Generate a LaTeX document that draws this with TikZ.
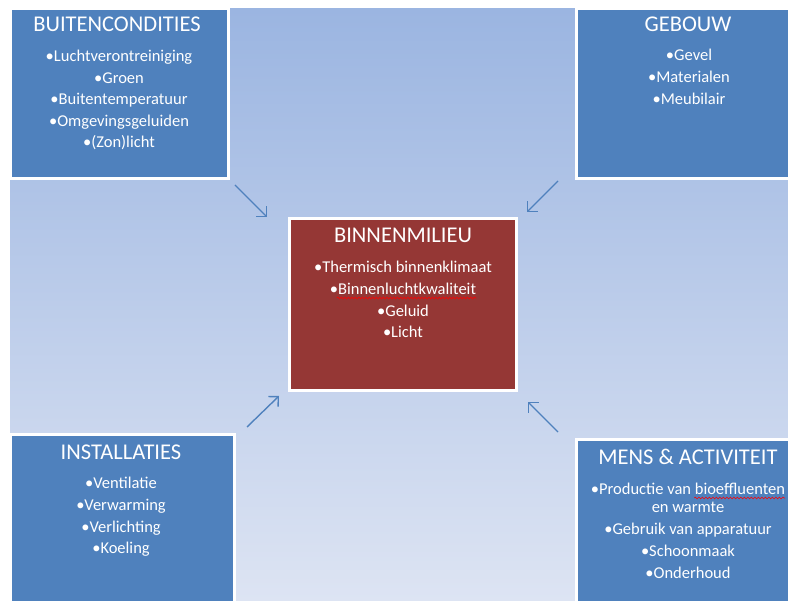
\documentclass[tikz,border=0pt]{standalone}
\usepackage{fontspec}
\setmainfont{Carlito}
\usetikzlibrary{positioning,arrows.meta,decorations.pathmorphing}

\definecolor{vakblauw}{HTML}{4F81BD}
\definecolor{vakrood}{HTML}{953735}
\definecolor{achtergrondboven}{HTML}{9BB5E1}
\definecolor{achtergrondmidden}{HTML}{C3D1EC}
\definecolor{achtergrondonder}{HTML}{DDE4F3}

\begin{document}
\begin{tikzpicture}
[x=1pt,y=-1pt,
vak/.style={rectangle,draw=white,line width=3pt,outer sep=0pt,inner sep=0pt,anchor=north west},
blauwvak/.style={vak,fill=vakblauw},
roodvak/.style={vak,fill=vakrood},
kop/.style={text=white,font=\fontsize{22.5}{27}\selectfont,anchor=base,inner sep=0pt},
punt/.style={text=white,font=\fontsize{16.5}{20}\selectfont,anchor=base,inner sep=0pt},
pijl/.style={draw=vakblauw,line width=1.4pt,-{Straight Barb[length=7pt,width=14pt]}},
kronkel/.style={draw=red,line width=0.6pt,decorate,decoration={snake,amplitude=0.9pt,segment length=3.5pt}}]

\useasboundingbox (0,0) rectangle (788,601);
\shade[top color=achtergrondboven,middle color=achtergrondmidden,bottom color=achtergrondonder] (10,9) rectangle (788,601);

% vakken
\node[blauwvak,minimum width=218pt,minimum height=170pt] (buiten) at (10,9) {};
\node[blauwvak,minimum width=214pt,minimum height=170pt] (gebouw) at (576.5,9) {};
\node[roodvak,minimum width=227pt,minimum height=172pt] (binnen) at (289.5,218.5) {};
\node[blauwvak,minimum width=224.5pt,minimum height=171pt] (install) at (10,434.5) {};
\node[blauwvak,minimum width=214pt,minimum height=165pt] (mens) at (576.5,440) {};

% koppen
\node[kop] (buiten-kop) at (117,32) {BUITENCONDITIES};
\node[kop] (gebouw-kop) at (688,32) {GEBOUW};
\node[kop] (binnen-kop) at (403,243) {BINNENMILIEU};
\node[kop] (install-kop) at (121,460) {INSTALLATIES};
\node[kop] (mens-kop) at (688,465) {MENS \& ACTIVITEIT};

% punten
\foreach \y/\txt [count=\i] in {62/Luchtverontreiniging,83.5/Groen,105/Buitentemperatuur,126.5/Omgevingsgeluiden,148/(Zon)licht}
	\node[punt] (buiten-\i) at (119,\y) {\textbullet\txt};
\foreach \y/\txt [count=\i] in {61/Gevel,83/Materialen,105/Meubilair}
	\node[punt] (gebouw-\i) at (689,\y) {\textbullet\txt};
\foreach \y/\txt [count=\i] in {273/Thermisch binnenklimaat,295/Binnenluchtkwaliteit,317/Geluid,338/Licht}
	\node[punt] (binnen-\i) at (403,\y) {\textbullet\txt};
\foreach \y/\txt [count=\i] in {489/Ventilatie,511/Verwarming,533/Verlichting,554/Koeling}
	\node[punt] (install-\i) at (121,\y) {\textbullet\txt};
\foreach \y/\txt [count=\i] in {495/\textbullet Productie van bioeffluenten,513/en warmte,535/\textbullet Gebruik van apparatuur,557/\textbullet Schoonmaak,579/\textbullet Onderhoud}
	\node[punt] (mens-\i) at (688,\y) {\txt};

% spelling
\draw[kronkel] ([xshift=7pt,yshift=-3pt]binnen-2.base west) -- ([yshift=-3pt]binnen-2.base east);
\draw[kronkel] ([xshift=-91pt,yshift=-3pt]mens-1.base east) -- ([yshift=-3pt]mens-1.base east);

% pijlen
\draw[pijl] ([shift={(7,6)}]buiten.south east) -- ([shift={(-22.5,-1.5)}]binnen.north west);
\draw[pijl] ([shift={(-18.5,2)}]gebouw.south west) -- ([shift={(10.5,-6.5)}]binnen.north east);
\draw[pijl] ([shift={(12.5,-7.5)}]install.north east) -- ([shift={(-10.5,5.5)}]binnen.south west);
\draw[pijl] ([shift={(-18.5,-8)}]mens.north west) -- ([shift={(11.5,11.5)}]binnen.south east);

\end{tikzpicture}
\end{document}
